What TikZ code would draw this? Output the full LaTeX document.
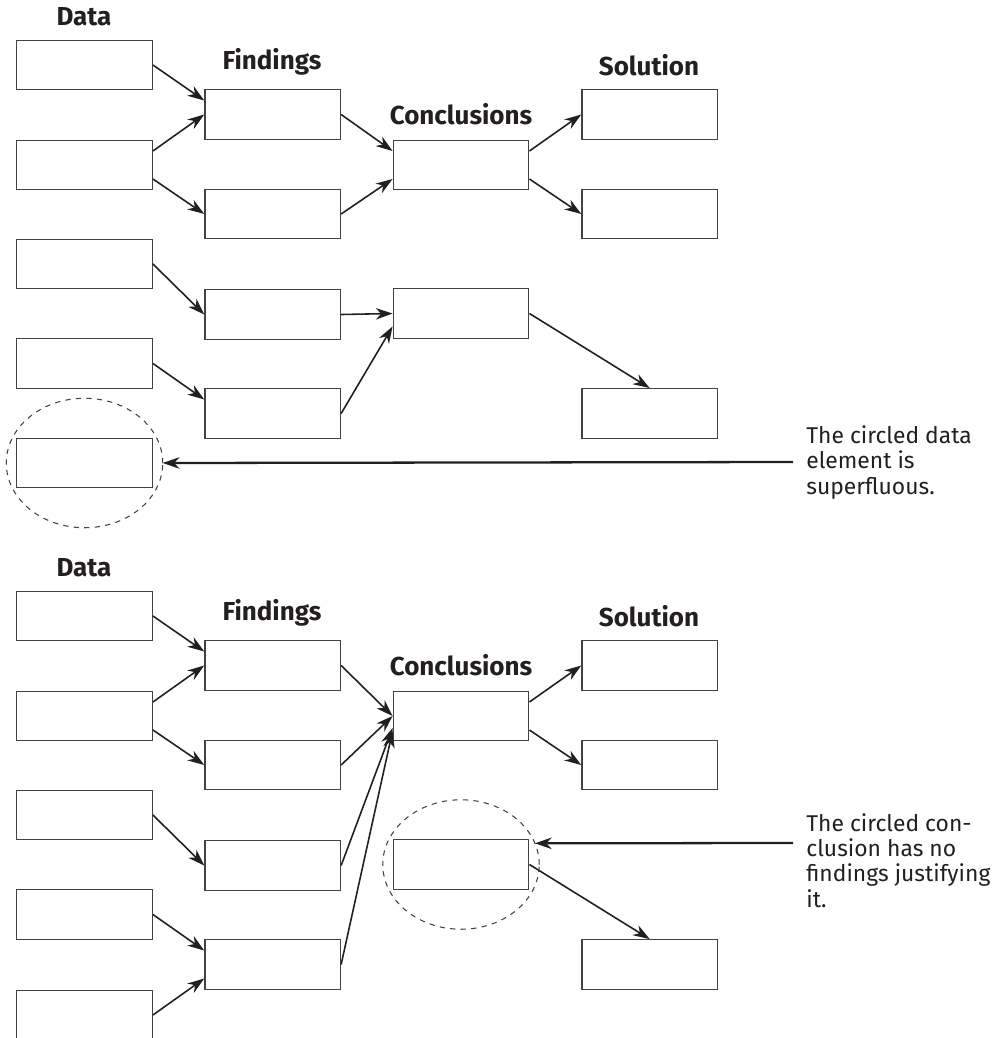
\documentclass[tikz,border=0pt]{standalone}
\usepackage{fontspec}
\setmainfont{Fira Sans}
\usetikzlibrary{arrows.meta,shapes.geometric}
\definecolor{ink}{HTML}{231F20}
\tikzstyle{cell} = [draw=ink!85,line width=0.8pt,rectangle,inner sep=0,minimum width=2.71cm,minimum height=0.99cm]
\tikzstyle{link} = [-{Stealth[length=9.5pt,width=6.5pt,inset=3pt]},line width=0.9pt,color=ink]
\tikzstyle{pointer} = [link,line width=1.3pt]
\tikzstyle{ring} = [draw=ink!85,dashed,line width=0.6pt,ellipse,inner sep=0,outer sep=0,minimum width=3.13cm,minimum height=2.59cm]
\tikzstyle{heading} = [anchor=base,inner sep=0,font=\bfseries\fontsize{14.8}{16}\selectfont,color=ink]
\tikzstyle{remark} = [anchor=base west,inner sep=0,align=left,font=\fontsize{13}{14.4}\selectfont,color=ink]
\def \up {0.28cm}

\begin{document}
\begin{tikzpicture}[x=0.02cm,y=-0.02cm]
  \useasboundingbox (0,0) rectangle (999,1038);

  % first chain: one data element leads nowhere
  \node[heading] (a-hd) at (84,25) {Data};
  \node[heading] (a-hf) at (272,69) {Findings};
  \node[heading] (a-hc) at (461,124) {Conclusions};
  \node[heading] (a-hs) at (649,75) {Solution};

  \node[cell] (a-d1) at (84.5,65) {};
  \node[cell] (a-d2) at (84.5,165) {};
  \node[cell] (a-d3) at (84.5,264) {};
  \node[cell] (a-d4) at (84.5,363.5) {};
  \node[cell] (a-d5) at (84.5,463) {};
  \node[cell] (a-f1) at (272.7,114.5) {};
  \node[cell] (a-f2) at (272.7,214) {};
  \node[cell] (a-f3) at (272.7,314.5) {};
  \node[cell] (a-f4) at (272.7,413.5) {};
  \node[cell] (a-c1) at (461,165) {};
  \node[cell] (a-c2) at (461,313.5) {};
  \node[cell] (a-s1) at (649.7,114.5) {};
  \node[cell] (a-s2) at (649.7,214) {};
  \node[cell] (a-s3) at (649.7,413.5) {};

  \draw[link] (a-d1.east) -- ([yshift=\up]a-f1.west);
  \draw[link] ([yshift=\up]a-d2.east) -- (a-f1.west);
  \draw[link] ([yshift=-\up]a-d2.east) -- (a-f2.west);
  \draw[link] (a-f1.east) -- ([yshift=\up]a-c1.west);
  \draw[link] (a-f2.east) -- ([yshift=-\up]a-c1.west);
  \draw[link] ([yshift=\up]a-c1.east) -- (a-s1.west);
  \draw[link] ([yshift=-\up]a-c1.east) -- (a-s2.west);
  \draw[link] (a-d3.east) -- (a-f3.west);
  \draw[link] (a-d4.east) -- ([yshift=\up]a-f4.west);
  \draw[link] (a-f3.east) -- (a-c2.west);
  \draw[link] (a-f4.east) -- ([yshift=-0.26cm]a-c2.west);
  \draw[link] (a-c2.east) -- (a-s3.north);

  \node[ring] (a-ring) at (a-d5) {};
  \coordinate (a-tail) at (793,462);
  \draw[pointer] (a-tail) -- (a-ring.east);
  \node[remark] (a-note) at (806,494) {The circled data\\element is\\superfluous.};

  % second chain: one conclusion has no findings behind it
  \node[heading] (b-hd) at (84,576) {Data};
  \node[heading] (b-hf) at (272,620) {Findings};
  \node[heading] (b-hc) at (461,675) {Conclusions};
  \node[heading] (b-hs) at (649,626) {Solution};

  \node[cell] (b-d1) at (84.5,616) {};
  \node[cell] (b-d2) at (84.5,716) {};
  \node[cell] (b-d3) at (84.5,815) {};
  \node[cell] (b-d4) at (84.5,914.5) {};
  \node[cell] (b-d5) at (84.5,1015) {};
  \node[cell] (b-f1) at (272.7,665.5) {};
  \node[cell] (b-f2) at (272.7,765) {};
  \node[cell] (b-f3) at (272.7,865.5) {};
  \node[cell] (b-f4) at (272.7,964.5) {};
  \node[cell] (b-c1) at (461,716) {};
  \node[cell] (b-c2) at (461,864.5) {};
  \node[cell] (b-s1) at (649.7,665.5) {};
  \node[cell] (b-s2) at (649.7,765) {};
  \node[cell] (b-s3) at (649.7,964.5) {};

  \draw[link] (b-d1.east) -- ([yshift=\up]b-f1.west);
  \draw[link] ([yshift=\up]b-d2.east) -- (b-f1.west);
  \draw[link] ([yshift=-\up]b-d2.east) -- (b-f2.west);
  \draw[link] (b-f1.east) -- (b-c1.west);
  \draw[link] (b-f2.east) -- (b-c1.west);
  \draw[link] ([yshift=\up]b-c1.east) -- (b-s1.west);
  \draw[link] ([yshift=-\up]b-c1.east) -- (b-s2.west);
  \draw[link] (b-d3.east) -- (b-f3.west);
  \draw[link] (b-d4.east) -- ([yshift=\up]b-f4.west);
  \draw[link] (b-d5.east) -- ([yshift=-\up]b-f4.west);
  \draw[link] (b-f3.east) -- ([yshift=-0.24cm]b-c1.west);
  \draw[link] (b-f4.east) -- ([yshift=-0.3cm]b-c1.west);
  \draw[link] (b-c2.east) -- (b-s3.north);

  \node[ring] (b-ring) at (b-c2) {};
  \coordinate (b-tail) at (793,843);
  \draw[pointer] (b-tail) -- (b-ring.16);
  \node[remark] (b-note) at (806,907) {The circled con-\\clusion has no\\findings justifying\\it.};
\end{tikzpicture}
\end{document}
